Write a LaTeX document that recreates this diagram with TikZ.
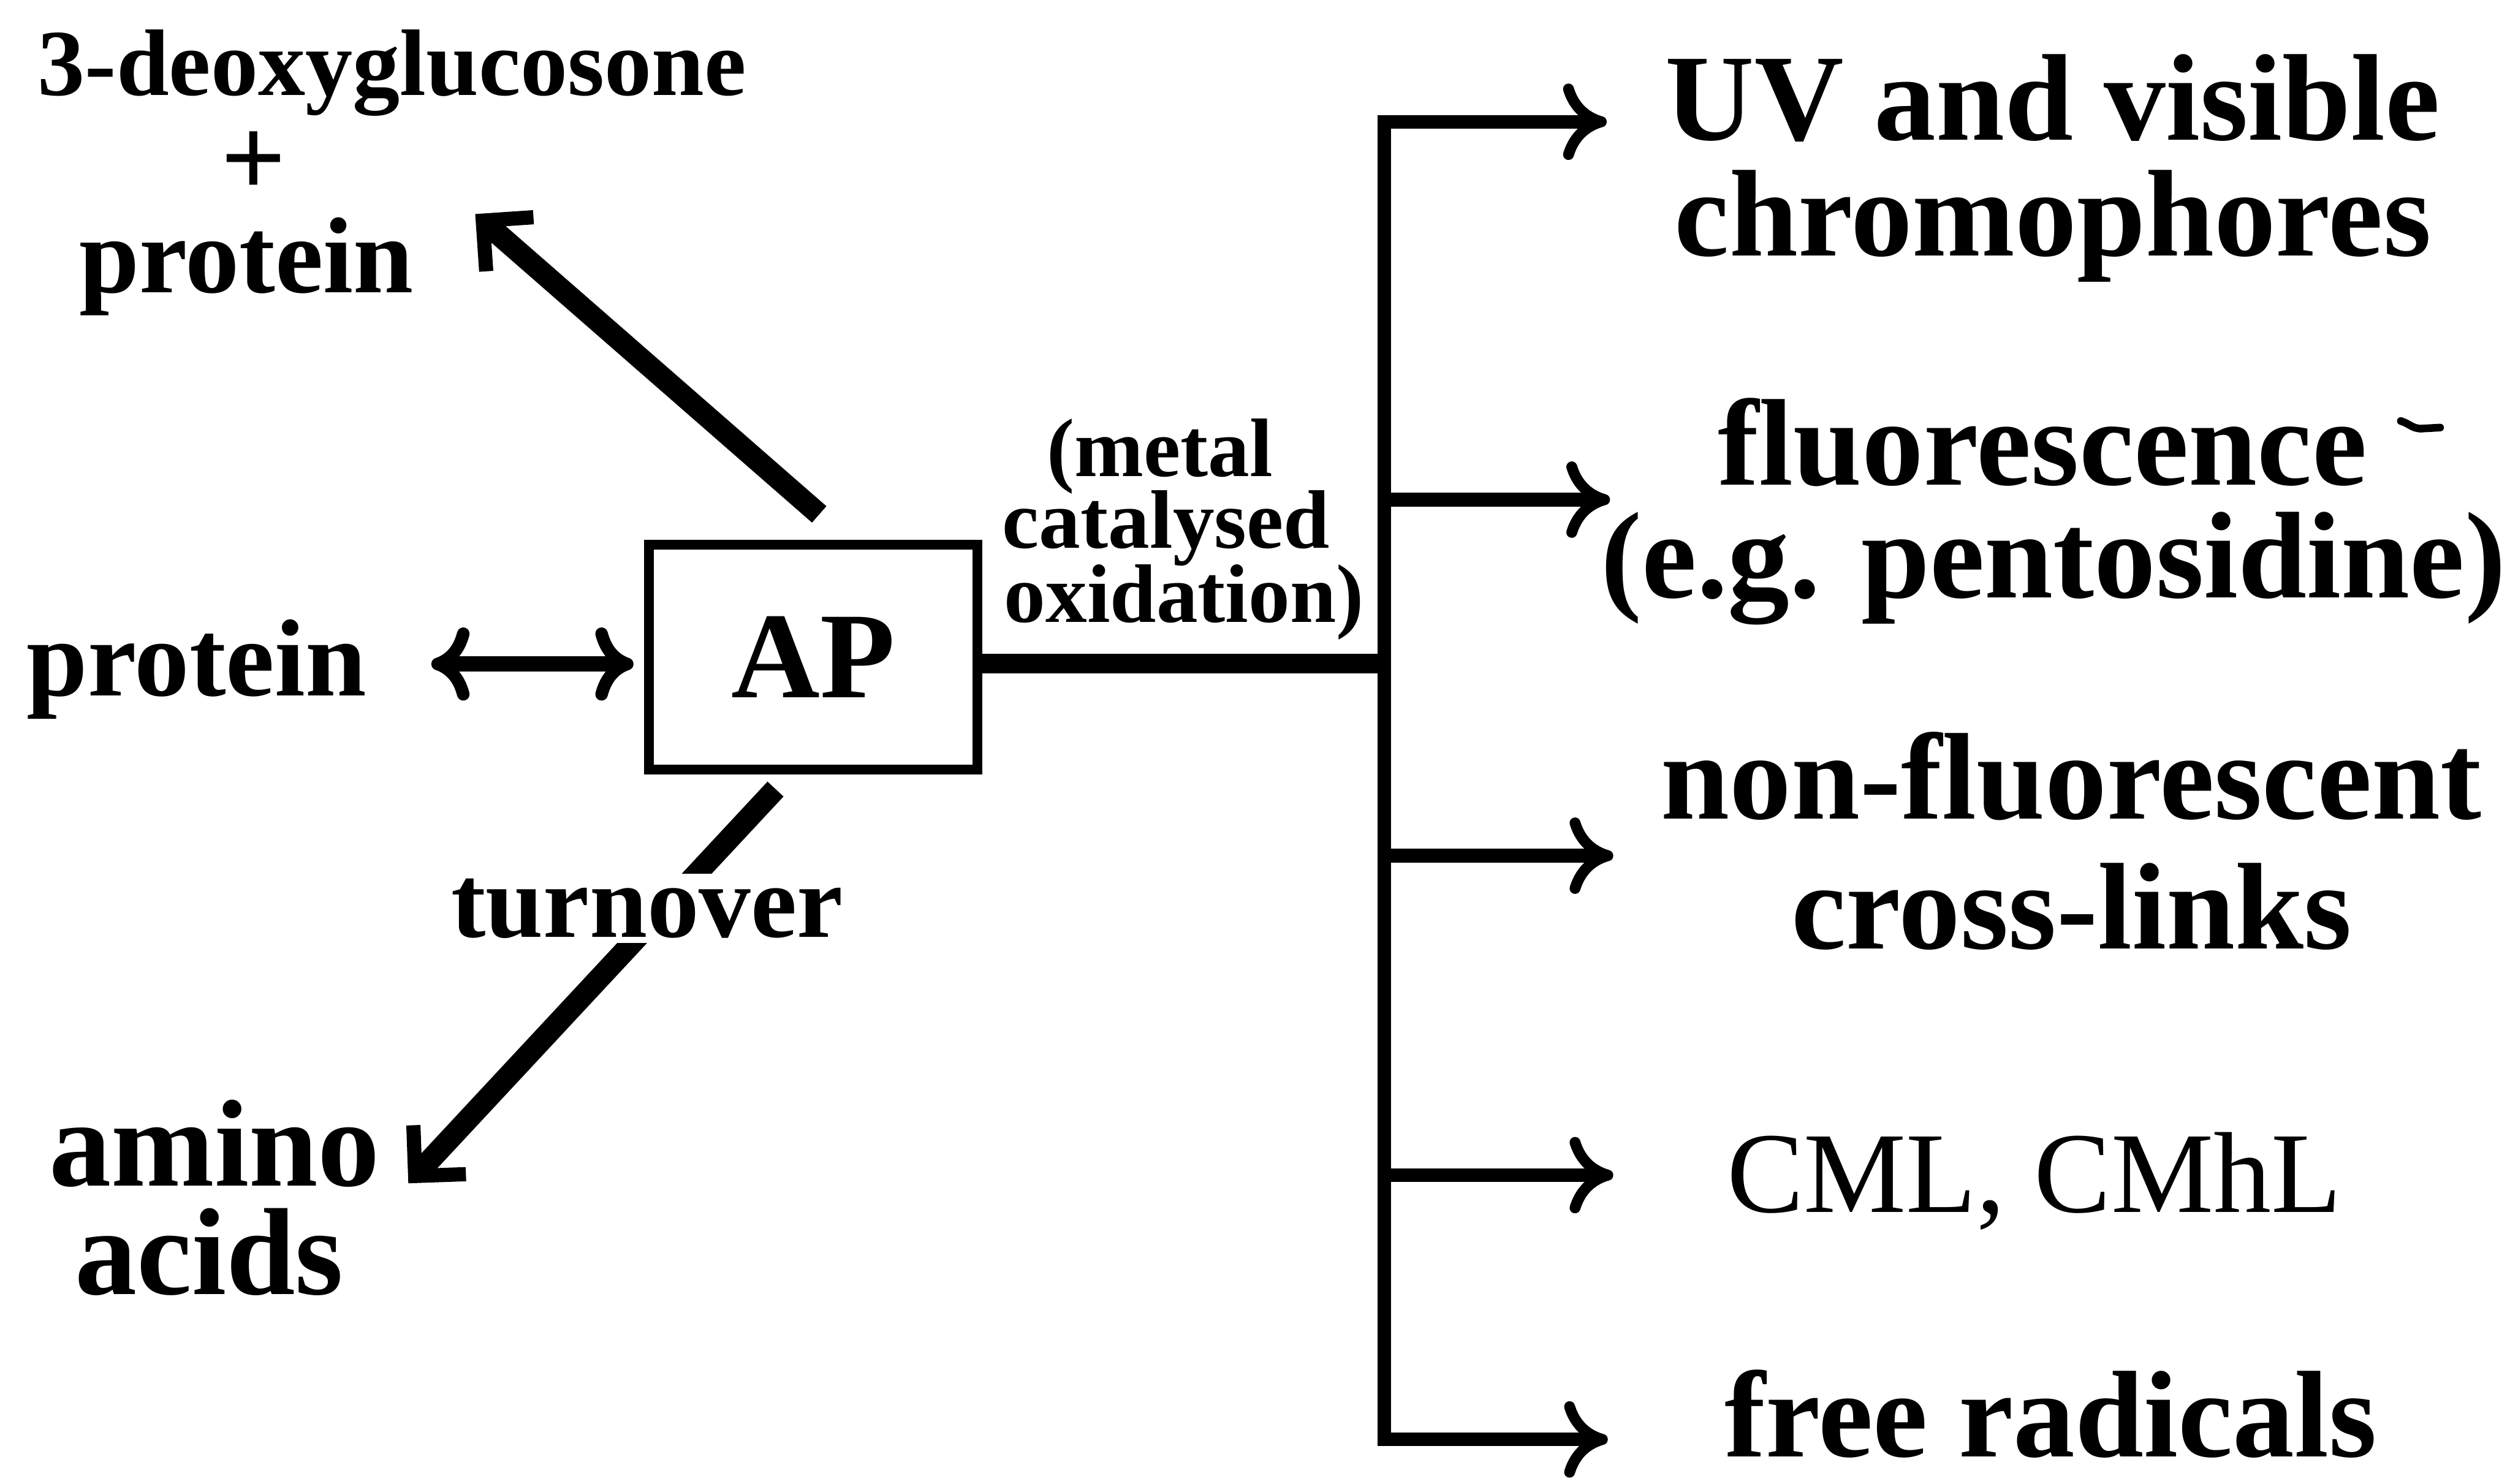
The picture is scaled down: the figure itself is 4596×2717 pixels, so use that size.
\documentclass[tikz,border=0pt]{standalone}
\usepackage{fontspec}
\setmainfont{Liberation Serif}
\usetikzlibrary{arrows.meta,calc}
\newcommand{\fsz}[1]{\fontsize{#1}{#1}\selectfont}
\tikzset{
  lbl/.style={anchor=base, inner sep=0pt, outer sep=0pt},
  big/.style={lbl, font=\bfseries\fsz{22.6}},
  small/.style={lbl, font=\bfseries\fsz{15.2}},
  apbox/.style={draw, line width=1.8pt, minimum width=60.2pt, minimum height=41.1pt,
    inner sep=0pt, outer sep=0pt, font=\bfseries\fsz{22.5}},
  thickarrow/.style={line width=4pt, -{Straight Barb[angle=90:9.3pt, line width=2.6pt]}},
  branch/.style={line width=2.5pt},
  cmtip/.tip={Computer Modern Rightarrow[length=8pt, width=14pt, line width=2pt]},
  dbltip/.tip={Computer Modern Rightarrow[length=7pt, width=13.4pt, line width=2.3pt]},
  mainline/.style={line width=3.6pt},
}
\begin{document}
\begin{tikzpicture}[x=0.1pt, y=-0.1pt]
\path[use as bounding box] (0,0) rectangle (4596,2717);

% left side labels
\node[lbl, font=\bfseries\fsz{17.3}] (deoxy) at (718,174) {3-deoxyglucosone};
\node[inner sep=0pt, font=\bfseries\fsz{21}] (plus) at (464,300) {+};
\node[lbl, font=\bfseries\fsz{19.8}] (protU) at (451,536) {protein};
\node[lbl, font=\bfseries\fsz{20.1}] (protL) at (360,1274) {protein};
\node[lbl, font=\bfseries\fsz{22.7}] (amino) at (393,2172) {amino};
\node[lbl, font=\bfseries\fsz{22.7}] (acids) at (383,2370) {acids};

% central box
\node[apbox] (box) at (1489,1203.5) {AP};

% oxidation label
\node[small] (metal) at (2124,872) {(metal};
\node[small] (catal) at (2135,1004) {catalysed};
\node[small] (oxid) at (2168,1140) {oxidation)};

% right side labels
\node[big] (uv1) at (3759,256) {UV and visible};
\node[big] (uv2) at (3759,469) {chromophores};
\node[big] (fl1) at (3740,888) {fluorescence};
\node[big] (fl2) at (3760,1095) {(e.g. pentosidine)};
\node[big] (nf1) at (3793,1500) {non-fluorescent};
\node[big] (nf2) at (3793,1737) {cross-links};
\node[lbl, font=\fsz{21.1}] (cml) at (3725,2220) {CML, CMhL};
\node[big] (free) at (3755,2668) {free radicals};

% stray mark after "fluorescence"
\draw[line width=1.4pt, line cap=round] (4396,771) .. controls (4412,776) and (4416,784) .. (4432,785) -- (4468,783);

% connectors on the left
\draw[thickarrow] ($(box.north)+(11,-56)$) -- ($(protU.base east)+(113,-144)$);
\draw[thickarrow] ($(box.south)+(-69,36)$) -- ($(amino.base east)+(52,-5)$);
\draw[line width=2.8pt, {dbltip}-{dbltip}] ($(protL.base east)+(119,-58)$) -- ($(box.west)+(-28,12.5)$);

% turnover label over the lower arrow
\node[lbl, font=\bfseries\fsz{19}, fill=white, inner ysep=0.9pt] (turn) at (1185,1716) {turnover};

% bus on the right
\coordinate (jm) at (2535,1215);
\coordinate (j1) at (2535,223);
\coordinate (j2) at (2535,915);
\coordinate (j3) at (2535,1567);
\coordinate (j4) at (2535,2152);
\coordinate (j5) at (2535,2636);
\coordinate (t1) at (2942,223);
\coordinate (t2) at (2948,915);
\coordinate (t3) at (2954,1567);
\coordinate (t4) at (2954,2152);
\coordinate (t5) at (2944,2636);

\draw[mainline] ($(box.east)+(0,11.5)$) -- (jm);
\draw[branch, {cmtip}-{cmtip}] (t1) -- (j1) -- (j5) -- (t5);
\draw[branch, -{cmtip}] (j2) -- (t2);
\draw[branch, -{cmtip}] (j3) -- (t3);
\draw[branch, -{cmtip}] (j4) -- (t4);
\end{tikzpicture}
\end{document}
